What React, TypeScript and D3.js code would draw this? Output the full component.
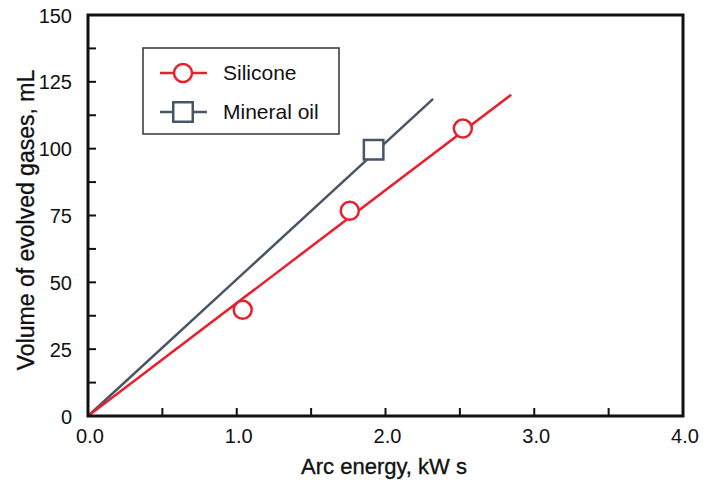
import React from "react";
import * as d3 from "d3";

const siliconeX = [1.04, 1.76, 2.52];
const siliconeY = [39.7, 76.8, 107.5];
const mineralX = [1.92];
const mineralY = [99.6];
const siliconeFitX = [0, 2.845];
const siliconeFitY = [0, 120.2];
const mineralFitX = [0, 2.32];
const mineralFitY = [0, 118.6];
const xTicks = [0, 1, 2, 3, 4];
const xTickLabels = ["0.0", "1.0", "2.0", "3.0", "4.0"];
const xMinor = [0.5, 1.5, 2.5, 3.5];
const yTicks = [0, 25, 50, 75, 100, 125, 150];
const yMinor = [12.5, 37.5, 62.5, 87.5, 112.5, 137.5];
const seriesNames = ["Silicone", "Mineral oil"];

const RED = "#e8202e";
const SLATE = "#475666";
const FONT = "'Liberation Sans', Arial, Helvetica, sans-serif";

export default function App() {
  const left = 88, right = 683, top = 15, bottom = 416;
  const x = d3.scaleLinear().domain([0, 4]).range([left, right]);
  const y = d3.scaleLinear().domain([0, 150]).range([bottom, top]);
  const line = d3.line<[number, number]>().x(d => x(d[0])).y(d => y(d[1]));
  const sFit = siliconeFitX.map((v, i) => [v, siliconeFitY[i]] as [number, number]);
  const mFit = mineralFitX.map((v, i) => [v, mineralFitY[i]] as [number, number]);
  const tickLen = 8;
  const ms = 9;
  const sq = 9.75;
  return (
    <svg width={708} height={481} style={{ position: "absolute", left: 0, top: 0 }} fontFamily={FONT}>
      <rect x={0} y={0} width={708} height={481} fill="#fff" />
      <path d={line(mFit)!} stroke={SLATE} strokeWidth={2.5} fill="none" />
      <path d={line(sFit)!} stroke={RED} strokeWidth={2.5} fill="none" />
      {siliconeX.map((v, i) => (
        <circle key={i} cx={x(v)} cy={y(siliconeY[i])} r={ms} fill="#fff" stroke={RED} strokeWidth={2.5} />
      ))}
      {mineralX.map((v, i) => (
        <rect key={i} x={x(v) - sq} y={y(mineralY[i]) - sq} width={2 * sq} height={2 * sq} fill="#fff" stroke={SLATE} strokeWidth={2.5} />
      ))}
      {xTicks.concat(xMinor).map((t, i) => (
        <line key={"xt" + i} x1={x(t)} x2={x(t)} y1={bottom} y2={bottom - tickLen} stroke="#111" strokeWidth={2} />
      ))}
      {yTicks.concat(yMinor).map((t, i) => (
        <line key={"yt" + i} x1={left} x2={left + tickLen} y1={y(t)} y2={y(t)} stroke="#111" strokeWidth={2} />
      ))}
      <rect x={left} y={top} width={right - left} height={bottom - top} fill="none" stroke="#111" strokeWidth={3} />
      {xTicks.map((t, i) => (
        <text key={"xl" + i} x={x(t) + 2} y={443} textAnchor="middle" fontSize={20} fill="#111">{xTickLabels[i]}</text>
      ))}
      {yTicks.map((t, i) => (
        <text key={"yl" + i} x={72} y={y(t) + 7.5} textAnchor="end" fontSize={20} fill="#111">{t}</text>
      ))}
      <text x={384} y={474} textAnchor="middle" fontSize={22} fill="#111" stroke="#111" strokeWidth={0.35}>Arc energy, kW s</text>
      <text transform={`translate(34,220) rotate(-90)`} textAnchor="middle" fontSize={23} fill="#111" stroke="#111" strokeWidth={0.35}>Volume of evolved gases, mL</text>
      <rect x={143} y={48} width={196} height={86} fill="#fff" stroke="#333" strokeWidth={1.5} />
      <line x1={160} x2={207} y1={73} y2={73} stroke={RED} strokeWidth={2.5} />
      <circle cx={183} cy={73} r={ms} fill="#fff" stroke={RED} strokeWidth={2.5} />
      <text x={223} y={80} fontSize={21} fill="#111">{seriesNames[0]}</text>
      <line x1={160} x2={207} y1={112} y2={112} stroke={SLATE} strokeWidth={2.5} />
      <rect x={183 - sq} y={112 - sq} width={2 * sq} height={2 * sq} fill="#fff" stroke={SLATE} strokeWidth={2.5} />
      <text x={223} y={119} fontSize={21} fill="#111">{seriesNames[1]}</text>
    </svg>
  );
}
